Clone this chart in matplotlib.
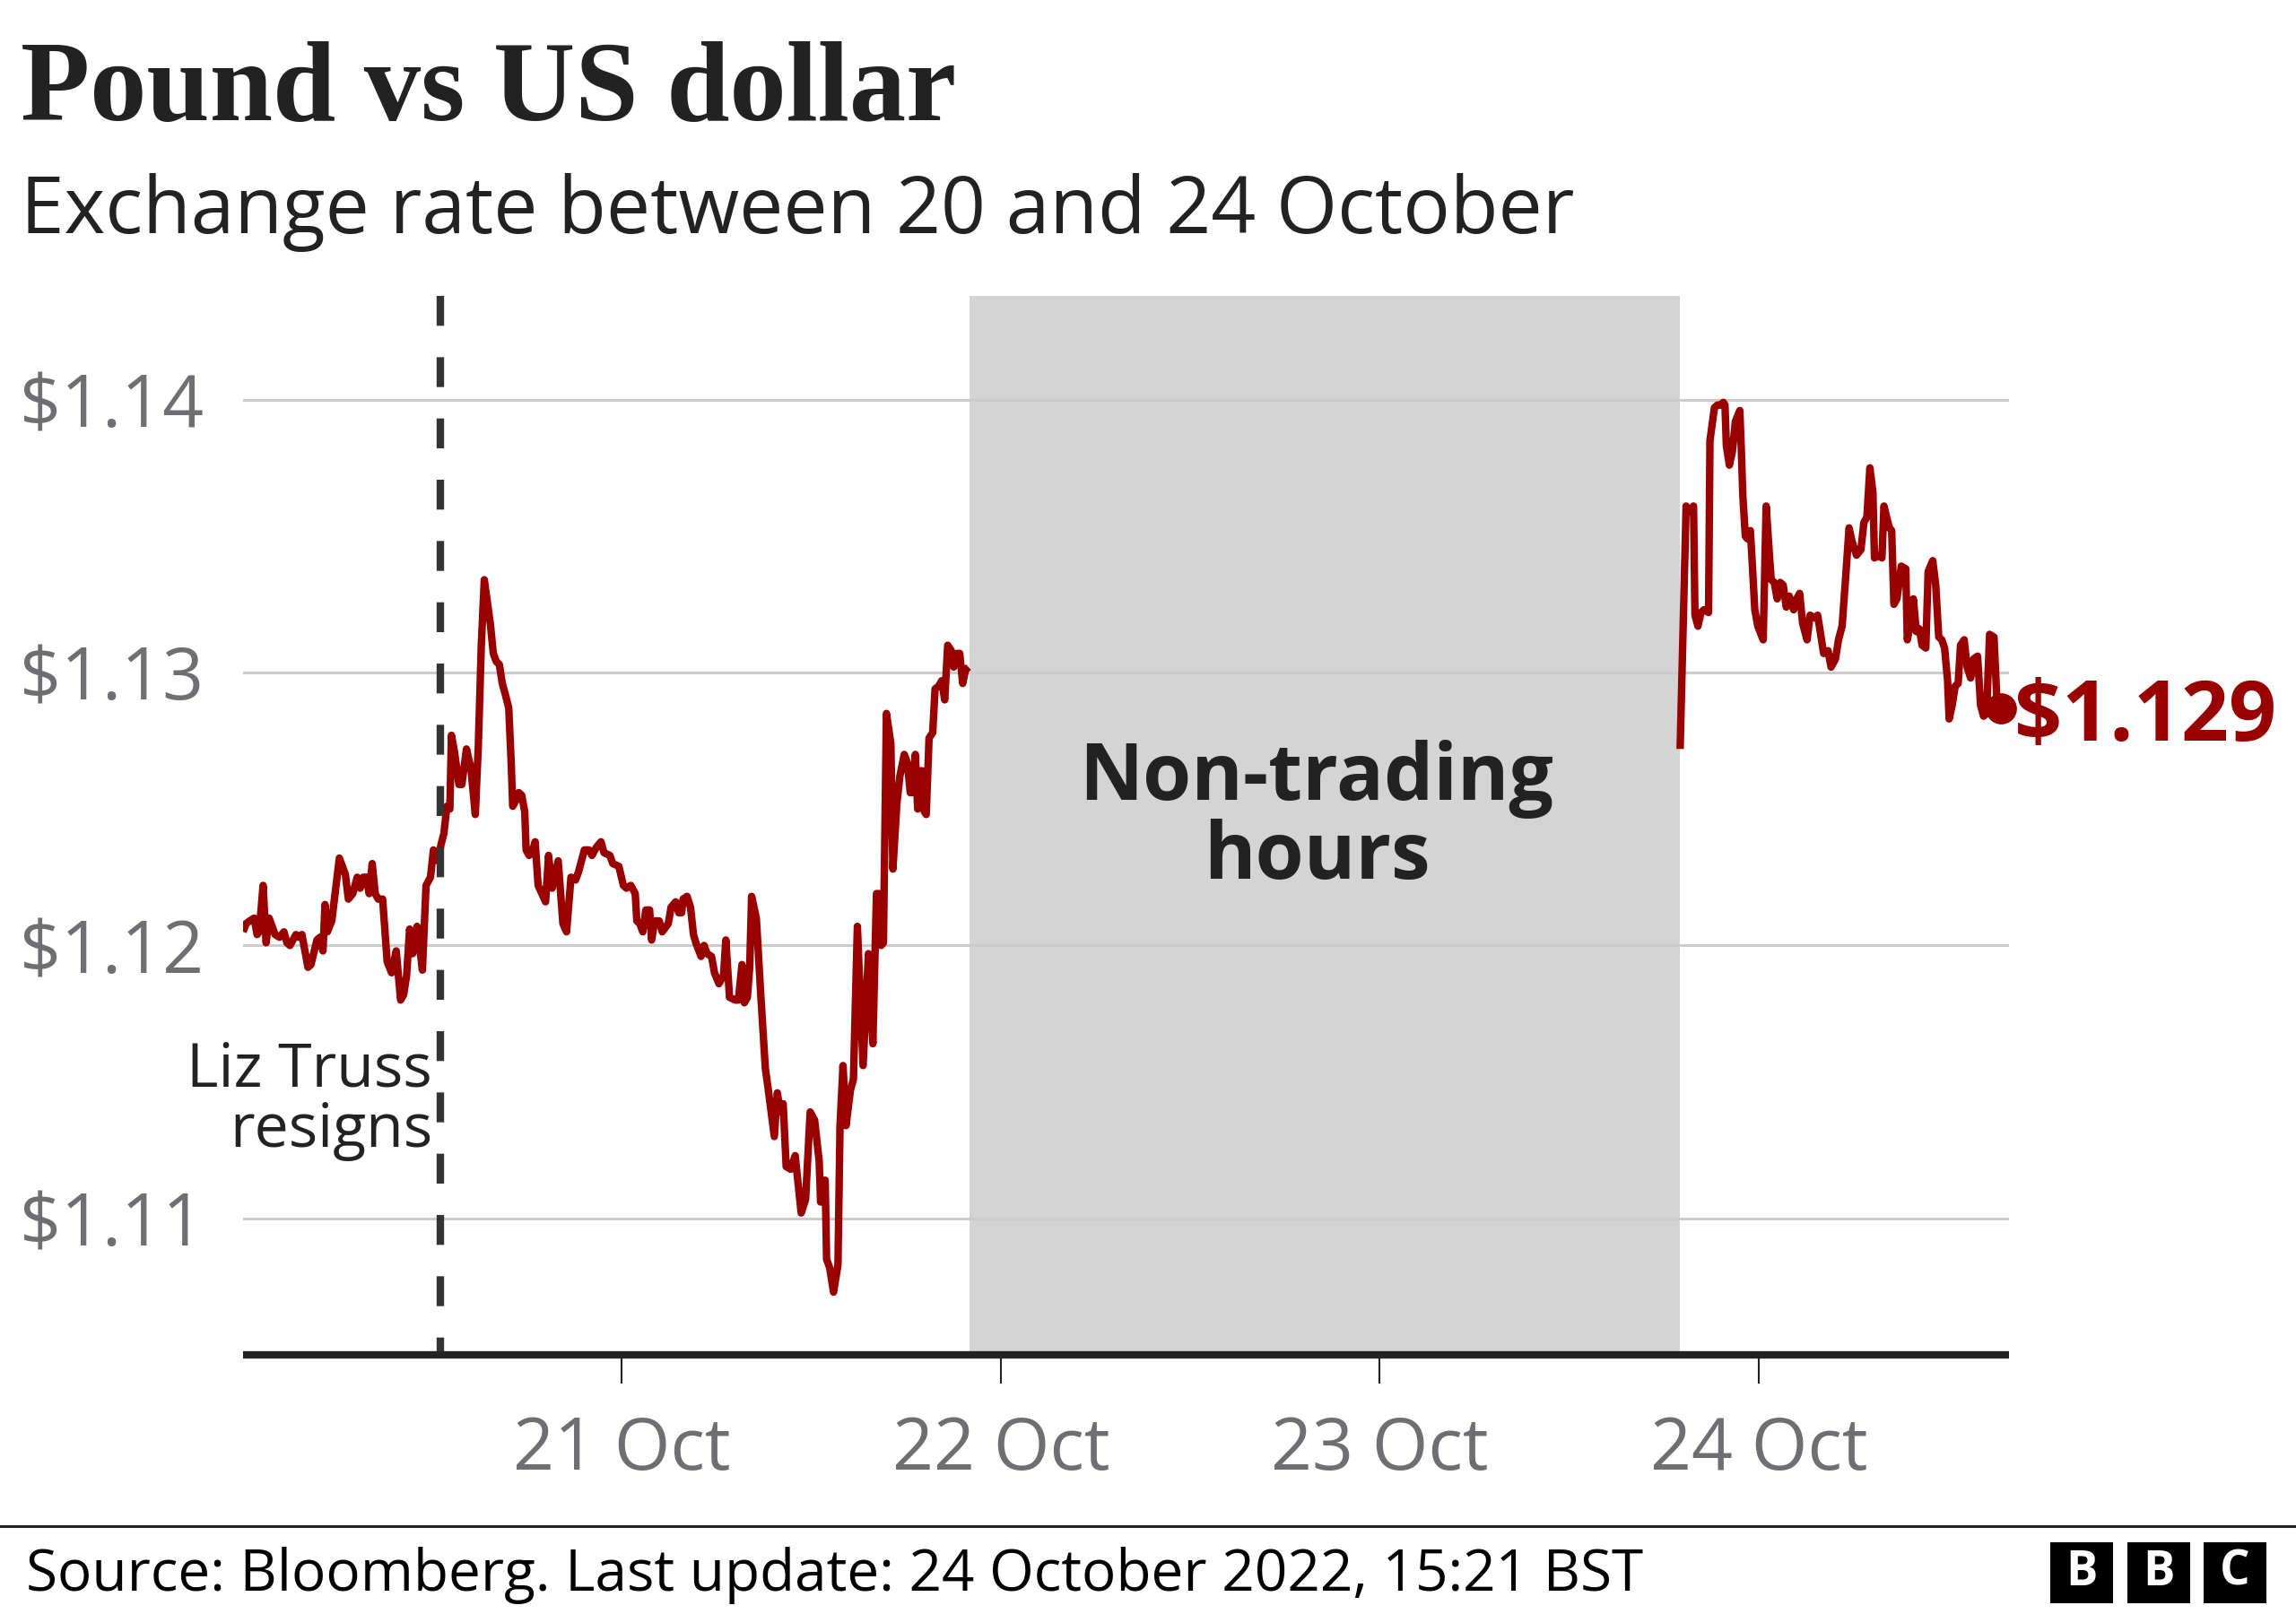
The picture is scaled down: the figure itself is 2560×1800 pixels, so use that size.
import matplotlib
matplotlib.use("Agg")
import matplotlib.pyplot as plt
from matplotlib.lines import Line2D
from matplotlib.patches import Rectangle

# ---------------- data (hours since 20 Oct 2022 00:00) ----------------
seg1_hours = [0.0, 0.19, 0.42, 0.70, 0.89, 1.02, 1.27, 1.46, 1.65, 1.84, 2.03, 2.31, 2.59, 2.78, 2.97,
              3.35, 3.54, 3.73, 4.11, 4.30, 4.68, 4.87, 5.06, 5.19, 5.34, 5.62, 6.10, 6.48, 6.67, 6.95,
              7.23, 7.42, 7.61, 7.80, 7.99, 8.18, 8.37, 8.56, 8.84, 9.13, 9.41, 9.70, 9.98, 10.17, 10.36,
              10.55, 10.74, 11.02, 11.36, 11.59, 11.87, 12.06, 12.35, 12.54, 12.72, 12.91, 13.10, 13.20,
              13.39, 13.67, 13.86, 14.15, 14.43, 14.71, 14.90, 15.09, 15.28, 15.47, 15.66, 15.85, 16.04,
              16.23, 16.42, 16.61, 16.83, 16.99, 17.08, 17.27, 17.46, 17.65, 17.84, 17.93, 18.12, 18.31,
              18.50, 18.69, 19.16, 19.35, 19.58, 19.96, 20.26, 20.49, 20.77, 21.06, 21.25, 21.62, 21.91,
              22.10, 22.38, 22.67, 22.86, 23.23, 23.42, 23.80, 24.09, 24.28, 24.56, 24.84, 24.94, 25.13,
              25.32, 25.51, 25.75, 25.88, 26.07, 26.36, 26.55, 26.93, 27.11, 27.40, 27.59, 27.78, 27.87,
              28.12, 28.34, 28.53, 28.68, 29.01, 29.20, 29.39, 29.67, 29.86, 30.14, 30.43, 30.58, 30.81,
              31.18, 31.37, 31.60, 31.75, 31.94, 32.09, 32.21, 32.51, 32.79, 33.08, 33.27, 33.65, 33.84,
              34.02, 34.21, 34.40, 34.69, 34.97, 35.35, 35.63, 35.92, 36.20, 36.49, 36.58, 36.87, 36.96,
              37.15, 37.40, 37.68, 37.81, 38.00, 38.19, 38.47, 38.66, 38.91, 39.27, 39.61, 39.89, 40.12,
              40.27, 40.42, 40.56, 40.75, 41.03, 41.16, 41.41, 41.60, 41.88, 42.07, 42.26, 42.39, 42.58,
              42.73, 42.89, 43.02, 43.15, 43.27, 43.45, 43.68, 43.83, 44.06, 44.25, 44.44, 44.63, 44.86,
              45.01, 45.20, 45.39, 45.58, 45.76, 45.95]
seg1_rate = [1.1205, 1.1208, 1.1209, 1.1210, 1.1204, 1.1205, 1.1222, 1.1201, 1.1210, 1.1207, 1.1204,
             1.1203, 1.1205, 1.1201, 1.1200, 1.1204, 1.1203, 1.1204, 1.1192, 1.1193, 1.1202, 1.1203,
             1.1198, 1.1215, 1.1205, 1.1209, 1.1232, 1.1226, 1.1217, 1.1219, 1.1225, 1.1221, 1.1225,
             1.1225, 1.1219, 1.1230, 1.1219, 1.1217, 1.1217, 1.1194, 1.1190, 1.1198, 1.1180, 1.1182,
             1.1189, 1.1206, 1.1197, 1.1207, 1.1191, 1.1222, 1.1225, 1.1235, 1.1231, 1.1237, 1.1241,
             1.1251, 1.1250, 1.1277, 1.1271, 1.1259, 1.1259, 1.1272, 1.1265, 1.1248, 1.1273, 1.1310,
             1.1334, 1.1326, 1.1318, 1.1307, 1.1304, 1.1303, 1.1296, 1.1292, 1.1287, 1.1266, 1.1251,
             1.1253, 1.1256, 1.1255, 1.1249, 1.1235, 1.1233, 1.1234, 1.1238, 1.1222, 1.1216, 1.1233,
             1.1221, 1.1231, 1.1208, 1.1205, 1.1225, 1.1224, 1.1227, 1.1235, 1.1235, 1.1233, 1.1236,
             1.1238, 1.1234, 1.1233, 1.1230, 1.1229, 1.1222, 1.1221, 1.1222, 1.1219, 1.1209, 1.1208,
             1.1205, 1.1213, 1.1213, 1.1202, 1.1209, 1.1209, 1.1205, 1.1208, 1.1214, 1.1216, 1.1212,
             1.1212, 1.1217, 1.1218, 1.1214, 1.1204, 1.1201, 1.1196, 1.1200, 1.1197, 1.1196, 1.1190,
             1.1186, 1.1189, 1.1202, 1.1181, 1.1180, 1.1180, 1.1193, 1.1179, 1.1181, 1.1192, 1.1218,
             1.1210, 1.1182, 1.1155, 1.1147, 1.1130, 1.1146, 1.1139, 1.1142, 1.1119, 1.1118, 1.1123,
             1.1102, 1.1107, 1.1139, 1.1136, 1.1121, 1.1106, 1.1114, 1.1085, 1.1082, 1.1073, 1.1083,
             1.1134, 1.1156, 1.1134, 1.1147, 1.1151, 1.1207, 1.1156, 1.1197, 1.1164, 1.1219, 1.1219,
             1.1200, 1.1201, 1.1285, 1.1274, 1.1228, 1.1252, 1.1262, 1.1270, 1.1267, 1.1256, 1.1256,
             1.1270, 1.1250, 1.1264, 1.1264, 1.1249, 1.1248, 1.1276, 1.1278, 1.1294, 1.1295, 1.1297,
             1.1290, 1.1310, 1.1308, 1.1302, 1.1307, 1.1307, 1.1296, 1.1301, 1.1302]

seg2_hours = [91.02, 91.40, 91.62, 91.87, 91.96, 92.15, 92.34, 92.53, 92.82, 92.91, 93.19, 93.38, 93.57,
              93.76, 93.86, 93.95, 94.14, 94.33, 94.52, 94.80, 94.90, 94.99, 95.15, 95.28, 95.47, 95.56,
              95.75, 95.94, 96.28, 96.47, 96.70, 96.79, 96.98, 97.17, 97.36, 97.55, 97.74, 97.93, 98.21,
              98.40, 98.59, 98.78, 99.06, 99.25, 99.54, 99.73, 99.92, 100.11, 100.39, 100.58, 100.86,
              101.05, 101.28, 101.53, 101.72, 101.91, 102.19, 102.47, 102.66, 102.85, 103.04, 103.23,
              103.33, 103.61, 103.80, 103.93, 104.27, 104.42, 104.56, 104.75, 105.03, 105.31, 105.41,
              105.64, 105.79, 105.98, 106.17, 106.35, 106.58, 106.73, 107.02, 107.21, 107.40, 107.59,
              107.77, 107.96, 108.06, 108.25, 108.44, 108.63, 108.78, 109.01, 109.20, 109.42, 109.61,
              109.86, 110.05, 110.24, 110.43, 110.62, 110.90, 111.09, 111.32]
seg2_rate = [1.1272, 1.1361, 1.1359, 1.1361, 1.1321, 1.1317, 1.1322, 1.1323, 1.1322, 1.1385, 1.1397,
             1.1398, 1.1398, 1.1399, 1.1398, 1.1383, 1.1376, 1.1381, 1.1392, 1.1396, 1.1381, 1.1365,
             1.1350, 1.1349, 1.1352, 1.1343, 1.1323, 1.1317, 1.1312, 1.1361, 1.1341, 1.1334, 1.1333,
             1.1327, 1.1333, 1.1332, 1.1324, 1.1328, 1.1323, 1.1327, 1.1329, 1.1318, 1.1312, 1.1321,
             1.1320, 1.1321, 1.1314, 1.1307, 1.1308, 1.1302, 1.1305, 1.1312, 1.1317, 1.1337, 1.1353,
             1.1348, 1.1343, 1.1345, 1.1355, 1.1357, 1.1375, 1.1366, 1.1342, 1.1343, 1.1342, 1.1361,
             1.1353, 1.1352, 1.1325, 1.1327, 1.1339, 1.1338, 1.1312, 1.1319, 1.1327, 1.1315, 1.1316,
             1.1310, 1.1309, 1.1337, 1.1341, 1.1332, 1.1313, 1.1312, 1.1309, 1.1297, 1.1283, 1.1288,
             1.1295, 1.1296, 1.1310, 1.1312, 1.1302, 1.1298, 1.1305, 1.1306, 1.1288, 1.1284, 1.1285,
             1.1314, 1.1313, 1.1289, 1.1287]

y_ticks = [1.11, 1.12, 1.13, 1.14]
y_tick_labels = [r"\$1.11", r"\$1.12", r"\$1.13", r"\$1.14"]
x_ticks = [24, 48, 72, 96]
x_tick_labels = ["21 Oct", "22 Oct", "23 Oct", "24 Oct"]
non_trading = (46.0, 91.0)
truss_resigns = 12.5
last_label = r"\$1.129"

title = "Pound vs US dollar"
subtitle = "Exchange rate between 20 and 24 October"
source = "Source: Bloomberg. Last update: 24 October 2022, 15:21 BST"

# ---------------- styling ----------------
W, H = 2560, 1800
RED = "#990000"
DARK = "#222222"
GREY_TXT = "#6e6e73"
SANS = ["Open Sans", "DejaVu Sans"]

fig = plt.figure(figsize=(W / 100, H / 100), dpi=100)
fig.patch.set_facecolor("white")

def fx(px):
    return px / W

def fy(py):
    return 1 - py / H

ax = fig.add_axes([fx(271), fy(1511), (2240 - 271) / W, (1511 - 330) / H])
ax.set_xlim(0, 111.85)
ax.set_ylim(1.105, 1.1438)
for s in ax.spines.values():
    s.set_visible(False)

ax.axvspan(*non_trading, color="#d4d4d4", lw=0, zorder=1)

ax.set_yticks(y_ticks)
ax.set_yticklabels(y_tick_labels, fontfamily=SANS, fontsize=58, color=GREY_TXT)
ax.tick_params(axis="y", length=0, pad=179.5)
for lab in ax.get_yticklabels():
    lab.set_horizontalalignment("left")
ax.set_axisbelow("line")
ax.grid(axis="y", color="#cccccc", lw=2.2)

ax.set_xticks(x_ticks)
ax.set_xticklabels(x_tick_labels, fontfamily=SANS, fontsize=58, color=GREY_TXT)
ax.tick_params(axis="x", length=23, width=1.5, color=DARK, pad=25, direction="out")

ax.plot(seg1_hours, seg1_rate, color=RED, lw=6, solid_joinstyle="round",
        solid_capstyle="butt", zorder=3)
ax.plot(seg2_hours, seg2_rate, color=RED, lw=6, solid_joinstyle="round",
        solid_capstyle="butt", zorder=3)
ax.plot([seg2_hours[-1]], [seg2_rate[-1]], "o", ms=24, color=RED, zorder=3, clip_on=False)

ax.plot([truss_resigns, truss_resigns], [1.1438, 1.105], color="#333333", lw=6,
        linestyle=(0, (4, 4.2)), dash_capstyle="butt", zorder=4, clip_on=False)
ax.axhline(1.105, color=DARK, lw=6, zorder=5, clip_on=False, solid_capstyle="butt")

# annotations
ax.text(fx(482), fy(1212), "Liz Truss", transform=fig.transFigure, ha="right", va="baseline",
        fontfamily=SANS, fontsize=49, color=DARK)
ax.text(fx(482), fy(1279), "resigns", transform=fig.transFigure, ha="right", va="baseline",
        fontfamily=SANS, fontsize=49, color=DARK)
ax.text(fx(1468), fy(892), "Non-trading", transform=fig.transFigure, ha="center", va="baseline",
        fontfamily=SANS, fontsize=63, fontweight="bold", color=DARK)
ax.text(fx(1468), fy(980), "hours", transform=fig.transFigure, ha="center", va="baseline",
        fontfamily=SANS, fontsize=63, fontweight="bold", color=DARK)
ax.text(fx(2246), fy(826), last_label, transform=fig.transFigure, ha="left", va="baseline",
        fontfamily=SANS, fontsize=67, fontweight="bold", color=RED)

# titles
fig.text(fx(23), fy(134), title, ha="left", va="baseline", fontfamily=["Liberation Serif"],
         fontsize=91, fontweight="bold", color=DARK)
fig.text(fx(23), fy(260), subtitle, ha="left", va="baseline", fontfamily=SANS,
         fontsize=63, color=DARK)

# footer
fig.add_artist(Line2D([0, 1], [fy(1702), fy(1702)], transform=fig.transFigure,
                      color=DARK, lw=2.2))
fig.text(fx(29), fy(1774), source, ha="left", va="baseline", fontfamily=SANS,
         fontsize=46, color="black")
for i, letter in enumerate(["B", "B", "C"]):
    x0 = 2286 + i * 85.5
    fig.add_artist(Rectangle((fx(x0), fy(1788)), 70 / W, 68 / H, transform=fig.transFigure,
                             color="black", lw=0))
    fig.text(fx(x0 + 35), fy(1754), letter, ha="center", va="center", fontfamily=SANS,
             fontsize=38, fontweight="bold", color="white")

fig.savefig("out.png", dpi=100)
